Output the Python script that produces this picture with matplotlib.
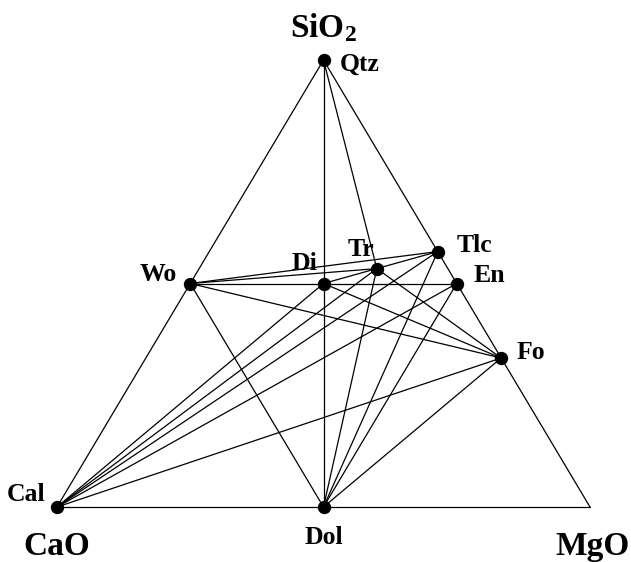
import matplotlib
matplotlib.use("Agg")
import matplotlib.pyplot as plt

plt.rcParams["mathtext.fontset"] = "custom"
plt.rcParams["mathtext.rm"] = "Liberation Serif:bold"
plt.rcParams["mathtext.it"] = "Liberation Serif:bold"
plt.rcParams["mathtext.bf"] = "Liberation Serif:bold"

# Phase compositions in moles of CaO, MgO, SiO2
phases = ["Qtz", "Wo", "Di", "Tr", "Tlc", "En", "Fo", "Cal", "Dol", "Per"]
cao = [0, 1, 1, 2, 0, 0, 0, 1, 1, 0]
mgo = [0, 0, 1, 5, 3, 1, 2, 0, 1, 1]
sio2 = [1, 1, 2, 8, 4, 1, 1, 0, 0, 0]

# Tie lines and triangle edges between phases
tie_lines = [
    ("Cal", "Wo"), ("Wo", "Qtz"), ("Qtz", "Tlc"), ("Tlc", "En"), ("En", "Fo"),
    ("Fo", "Per"), ("Cal", "Dol"), ("Dol", "Per"),
    ("Qtz", "Di"), ("Di", "Dol"), ("Qtz", "Tr"),
    ("Wo", "Di"), ("Di", "En"), ("Wo", "Tr"), ("Wo", "Tlc"),
    ("Di", "Tr"), ("Tr", "Tlc"),
    ("Wo", "Dol"), ("Wo", "Fo"), ("Di", "Fo"), ("Tr", "Fo"),
    ("Cal", "Di"), ("Cal", "Tr"), ("Cal", "Tlc"), ("Cal", "En"), ("Cal", "Fo"),
    ("Dol", "Tr"), ("Dol", "Tlc"), ("Dol", "En"), ("Dol", "Fo"),
]

# Labelled phases and their label placement (offset in px, alignment)
labels = {
    "Qtz": (16, -11, "left"),
    "Wo": (-13, 3, "right"),
    "Di": (-6, 14, "right"),
    "Tr": (-3, 13, "right"),
    "Tlc": (19, 0, "left"),
    "En": (17, 2, "left"),
    "Fo": (15, -1, "left"),
    "Cal": (-12, 6, "right"),
    "Dol": (0, -37, "center"),
}
marked = ["Qtz", "Wo", "Di", "Tr", "Tlc", "En", "Fo", "Cal", "Dol"]


def to_xy(c, m, s):
    t = c + m + s
    m, s = m / t, s / t
    return m + 0.5 * s, s


pos = {p: to_xy(c, m, s) for p, c, m, s in zip(phases, cao, mgo, sio2)}

W, H = 631, 562
fig = plt.figure(figsize=(W / 100, H / 100), dpi=100)
ax = fig.add_axes([0, 0, 1, 1])
x0, xw = 57, 533
y0, yh = 507, 447
ax.set_xlim(-x0 / xw, (W - x0) / xw)
ax.set_ylim((y0 - H) / yh, y0 / yh)
ax.axis("off")

for a, b in tie_lines:
    ax.plot([pos[a][0], pos[b][0]], [pos[a][1], pos[b][1]],
            color="black", lw=0.9, solid_capstyle="round", zorder=1)

ax.plot([pos[p][0] for p in marked], [pos[p][1] for p in marked], "o",
        color="black", ms=8.6, zorder=3)

font = dict(family="Liberation Serif", fontweight="bold", color="black")
for p, (dx, dy, ha) in labels.items():
    ax.annotate(p, pos[p], xytext=(dx * 0.72, dy * 0.72), textcoords="offset points",
                ha=ha, va="baseline", fontsize=18.5, **font)

# Component labels at the triangle corners
ax.annotate("CaO", pos["Cal"], xytext=(0, -48 * 0.72), textcoords="offset points",
            ha="center", va="baseline", fontsize=24, **font)
ax.annotate("MgO", pos["Per"], xytext=(2 * 0.72, -48 * 0.72), textcoords="offset points",
            ha="center", va="baseline", fontsize=24, **font)
ax.annotate("SiO$_2$", pos["Qtz"], xytext=(0, 23 * 0.72), textcoords="offset points",
            ha="center", va="baseline", fontsize=24, **font)

fig.savefig("out.png", dpi=100)
